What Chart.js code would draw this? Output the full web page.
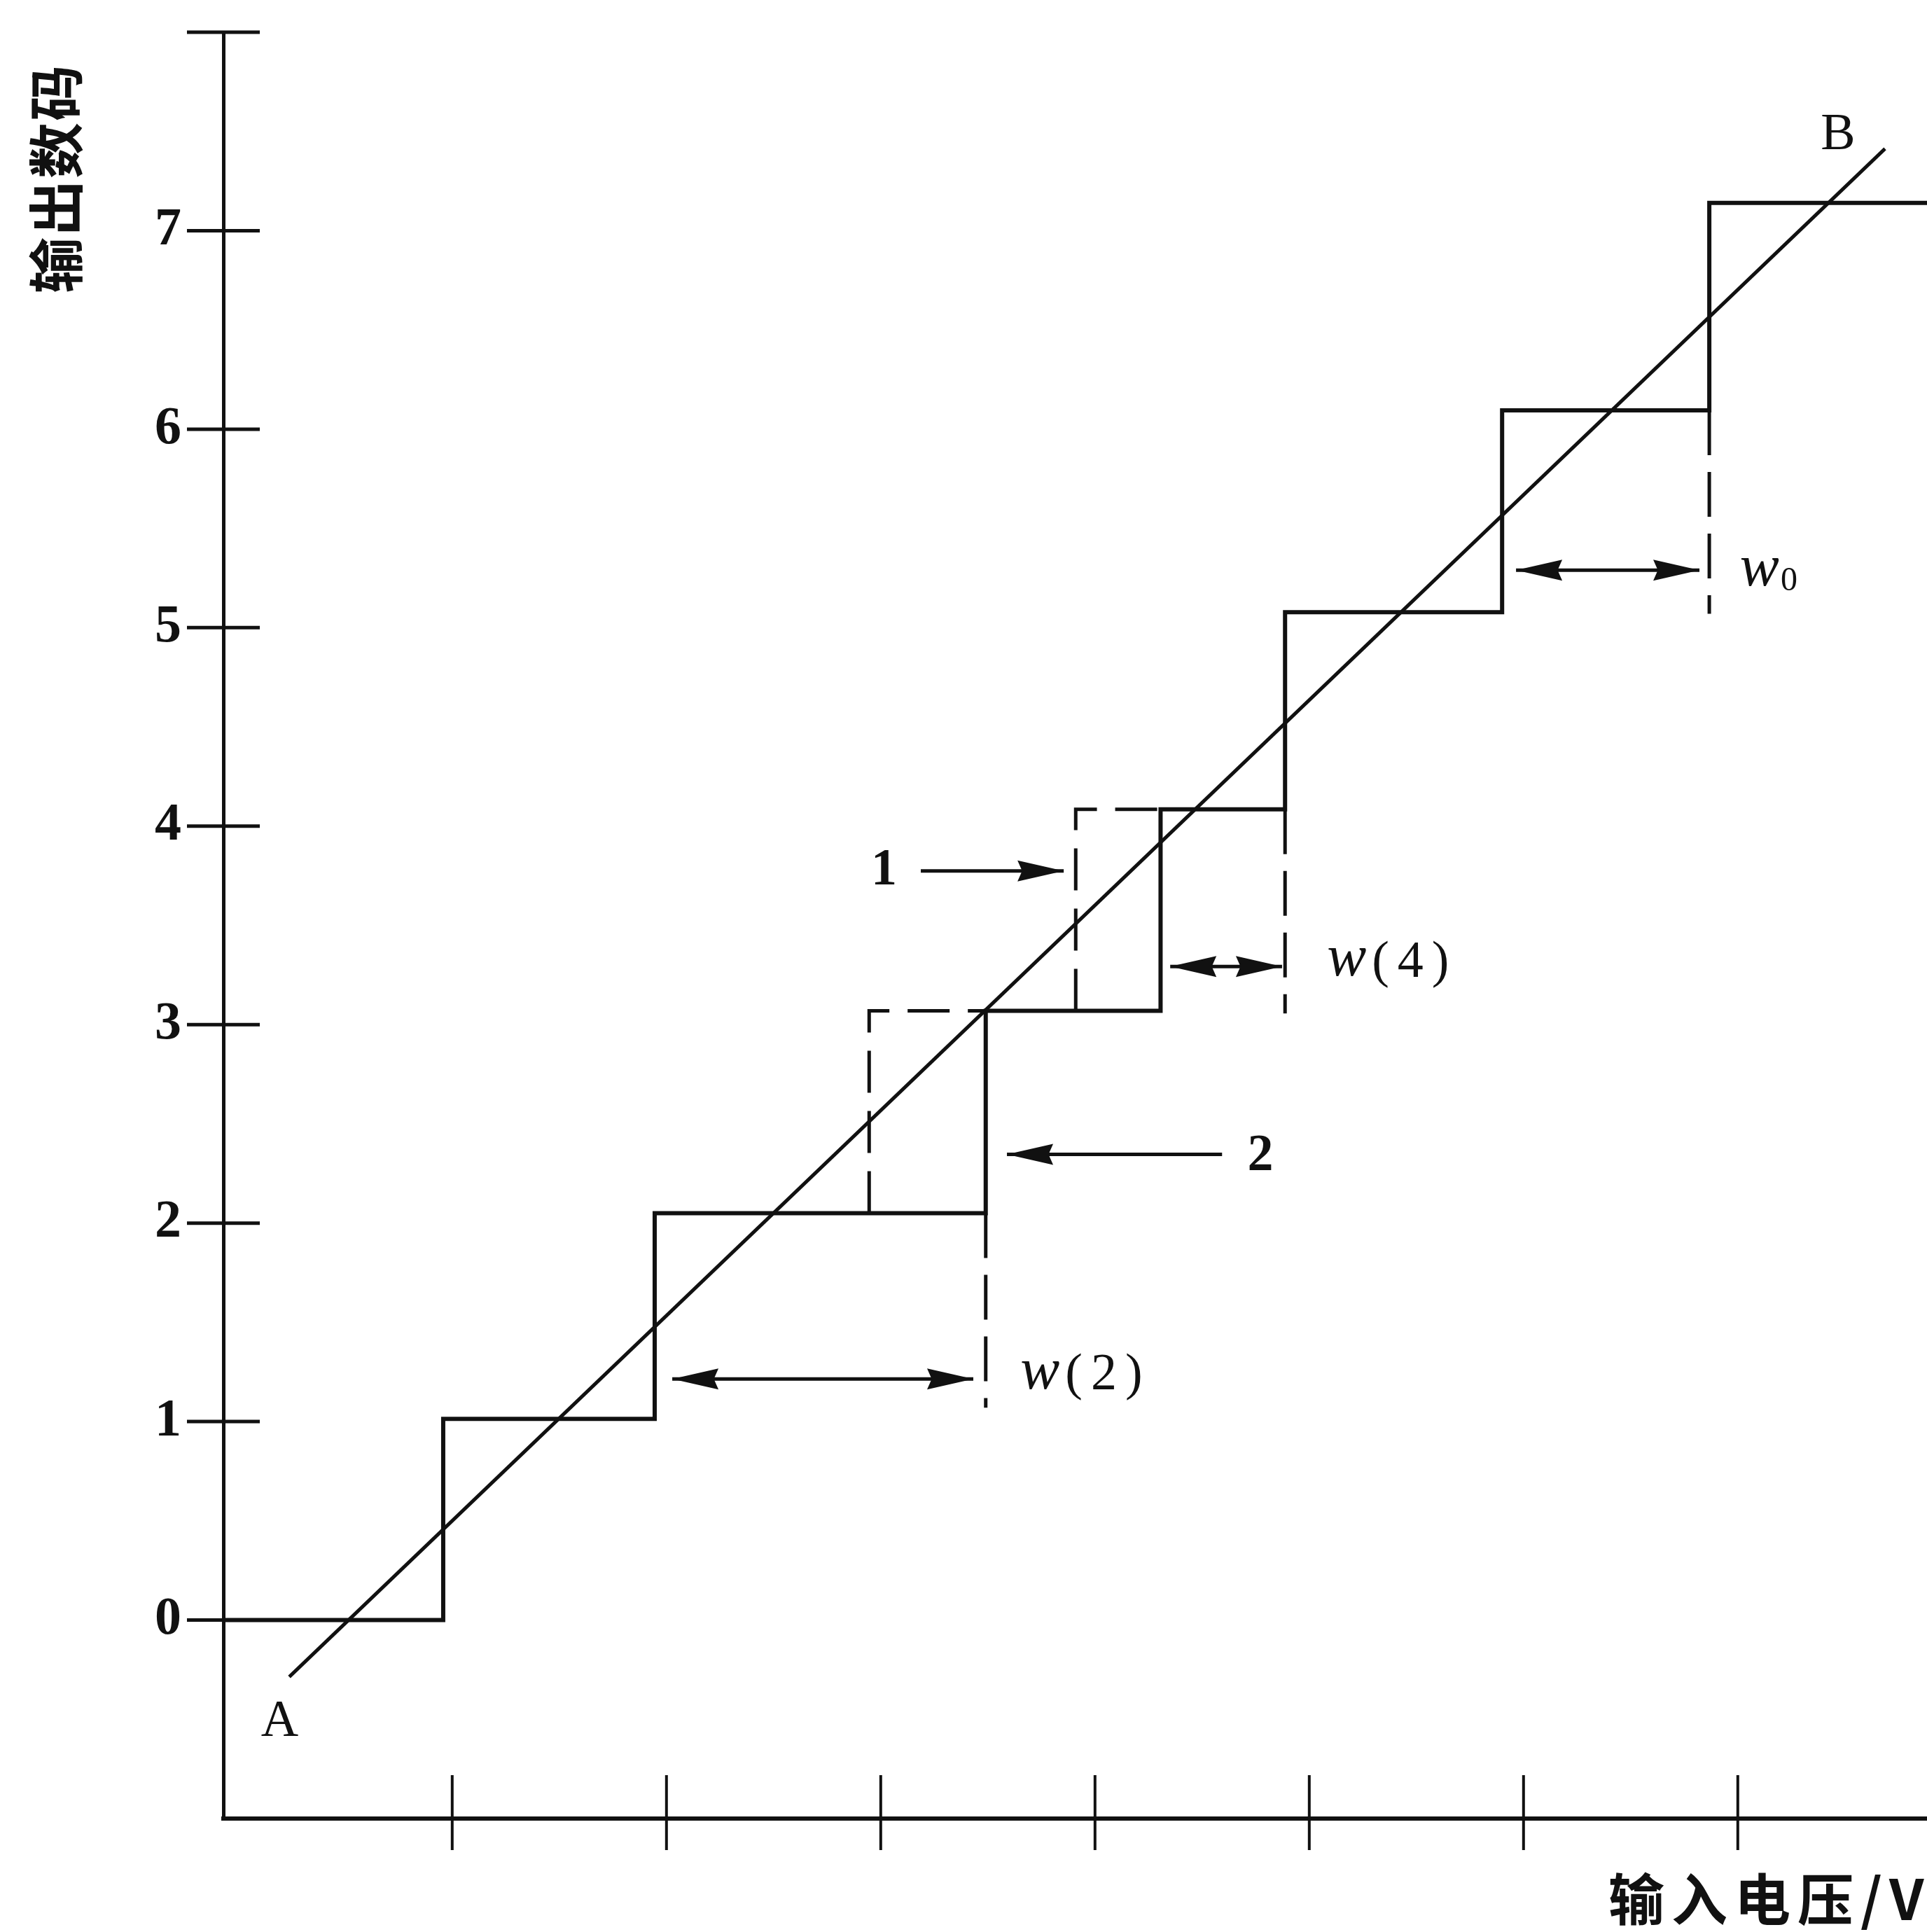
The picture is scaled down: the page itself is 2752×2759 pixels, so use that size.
<!DOCTYPE html>
<html>
<head>
<meta charset="utf-8">
<script src="https://cdn.jsdelivr.net/npm/chart.js@4.4.1/dist/chart.umd.min.js"></script>
<style>
  html, body { margin: 0; padding: 0; background: #fff; }
  #wrap { width: 2752px; height: 2759px; }
</style>
</head>
<body>
<div id="wrap"><canvas id="adc" width="2752" height="2759" style="width:2752px;height:2759px"></canvas></div>
<script>
// axis ranges (input voltage / output code)
const xRange = [-0.068, 7.883];
const yRange = [-1, 8];
const yTicks = [0, 1, 2, 3, 4, 5, 6, 7, 8];
const yTickLabels = ['0', '1', '2', '3', '4', '5', '6', '7', ''];
const xTicks = [1, 2, 3, 4, 5, 6, 7];

const stepEdges = [-0.068, 0.958, 1.945, 3.49, 4.306, 4.887, 5.90, 6.867, 7.883];
const stepLevels = [0, 1.014, 2.05, 3.07, 4.085, 5.078, 6.095, 7.14];

// ideal (dashed) transitions for codes 3 and 4
const idealCodes = [3, 4];
const idealEdges = [2.946, 3.91];

// dashed guides marking the code widths
const widthMarkX = [3.49, 4.887, 6.867];
const widthMarkTop = [2.05, 4.085, 6.095];
const widthMarkBottom = [1.07, 3.056, 5.07];

// straight line A-B
const lineA = [0.2395, -0.286];
const lineB = [7.687, 7.413];

// arrows: w(2), w(4), w0, pointer 1, pointer 2
const arrowY = [1.215, 3.293, 5.29, 3.774, 2.346];
const arrowFrom = [2.027, 4.351, 5.965, 3.187, 4.593];
const arrowTo = [3.432, 4.873, 6.821, 3.854, 3.589];
const arrowDouble = [true, true, true, false, false];

// annotation texts
const noteText = ['A', 'B', '1', '2', 'w(2)', 'w(4)', 'w0'];
const noteX = [0.195, 7.468, 3.015, 4.772, 3.652, 5.083, 7.01];
const noteY = [-0.516, 7.48, 3.774, 2.336, 1.23, 3.31, 5.275];

const black = '#111';
const serif = '"Liberation Serif", "DejaVu Serif", serif';
const cjk = '"Noto Sans CJK SC", sans-serif';

// build datasets
const stairPoints = [];
stepLevels.forEach((lv, i) => {
  stairPoints.push({ x: stepEdges[i], y: lv });
  stairPoints.push({ x: stepEdges[i + 1], y: lv });
});

const datasets = [];
datasets.push({ data: stairPoints, borderWidth: 6 });
datasets.push({ data: [{ x: lineA[0], y: lineA[1] }, { x: lineB[0], y: lineB[1] }], borderWidth: 5 });

idealCodes.forEach((c, i) => {
  datasets.push({
    data: [
      { x: idealEdges[i], y: stepLevels[c - 1] },
      { x: idealEdges[i], y: stepLevels[c] },
      { x: stepEdges[c], y: stepLevels[c] }
    ],
    borderWidth: 5,
    borderDash: [60, 26]
  });
});

widthMarkX.forEach((x, i) => {
  datasets.push({
    data: [{ x: x, y: widthMarkTop[i] }, { x: x, y: widthMarkBottom[i] }],
    borderWidth: 5,
    borderDash: [64, 24]
  });
});

arrowY.forEach((y, i) => {
  datasets.push({
    data: [{ x: arrowFrom[i], y: y }, { x: arrowTo[i], y: y }],
    borderWidth: 5,
    arrow: arrowDouble[i] ? 'both' : 'end'
  });
});

datasets.forEach(d => {
  d.showLine = true;
  d.pointRadius = 0;
  d.borderColor = black;
  d.fill = false;
  d.tension = 0;
});

function drawHead(ctx, tip, tail) {
  const ang = Math.atan2(tip.y - tail.y, tip.x - tail.x);
  const len = 66, half = 15;
  ctx.save();
  ctx.translate(tip.x, tip.y);
  ctx.rotate(ang);
  ctx.beginPath();
  ctx.moveTo(0, 0);
  ctx.lineTo(-len, -half);
  ctx.lineTo(-len * 0.9, 0);
  ctx.lineTo(-len, half);
  ctx.closePath();
  ctx.fill();
  ctx.restore();
}

const extras = {
  id: 'extras',
  afterDatasetsDraw(chart) {
    const { ctx, scales: { x, y } } = chart;
    ctx.save();
    ctx.strokeStyle = black;
    ctx.fillStyle = black;

    // tick marks crossing the axes
    ctx.lineWidth = 5;
    const ax = x.getPixelForValue(xRange[0]);
    const ay = y.getPixelForValue(yRange[0]);
    yTicks.forEach(v => {
      const py = y.getPixelForValue(v);
      ctx.beginPath(); ctx.moveTo(ax - 52, py); ctx.lineTo(ax + 52, py); ctx.stroke();
    });
    ctx.lineWidth = 4;
    xTicks.forEach(v => {
      const px = x.getPixelForValue(v);
      ctx.beginPath(); ctx.moveTo(px, ay - 62); ctx.lineTo(px, ay + 45); ctx.stroke();
    });

    // arrow heads
    chart.data.datasets.forEach((d, i) => {
      if (!d.arrow) return;
      const pts = chart.getDatasetMeta(i).data;
      drawHead(ctx, pts[1], pts[0]);
      if (d.arrow === 'both') drawHead(ctx, pts[0], pts[1]);
    });

    // annotations
    ctx.textBaseline = 'middle';
    noteText.forEach((t, i) => {
      let px = x.getPixelForValue(noteX[i]);
      const py = y.getPixelForValue(noteY[i]);
      if (t[0] !== 'w') {
        const isNum = /\d/.test(t);
        ctx.font = (isNum ? 'bold 74px ' : '74px ') + serif;
        ctx.textAlign = 'center';
        ctx.fillText(t, px, py);
        return;
      }
      ctx.textAlign = 'left';
      ctx.font = 'italic 84px ' + serif;
      ctx.fillText('w', px, py - 4);
      px += ctx.measureText('w').width + 8;
      const rest = t.slice(1);
      if (rest[0] === '(') {
        ctx.font = '74px ' + serif;
        ctx.letterSpacing = '12px';
        ctx.fillText(rest, px, py);
        ctx.letterSpacing = '0px';
      } else {
        ctx.font = '48px ' + serif;
        ctx.fillText(rest, px - 6, py + 12);
      }
    });

    // axis titles
    ctx.font = '600 80px ' + cjk;
    ctx.textAlign = 'center';
    ctx.save();
    ctx.translate(80, 255);
    ctx.rotate(-Math.PI / 2);
    ctx.letterSpacing = '2px';
    ctx.fillText('输出数码', 0, 0);
    ctx.restore();
    ctx.textAlign = 'left';
    ctx.letterSpacing = '10px';
    ctx.fillText('输入电压/V', 2297, 2712);
    ctx.restore();
  }
};

new Chart(document.getElementById('adc'), {
  type: 'scatter',
  data: { datasets },
  options: {
    responsive: false,
    animation: false,
    devicePixelRatio: 1,
    layout: { padding: { top: 46, bottom: 162, left: 0, right: 0 } },
    plugins: { legend: { display: false }, tooltip: { enabled: false } },
    scales: {
      x: {
        type: 'linear',
        min: xRange[0],
        max: xRange[1],
        grid: { display: false, drawTicks: false },
        border: { display: true, color: black, width: 6 },
        ticks: { display: false },
        afterFit(s) { s.height = 0; s.paddingLeft = 0; s.paddingRight = 0; }
      },
      y: {
        type: 'linear',
        min: yRange[0],
        max: yRange[1],
        grid: { display: false, drawTicks: false },
        border: { display: true, color: black, width: 5 },
        ticks: {
          stepSize: 1,
          autoSkip: false,
          padding: 60,
          color: black,
          font: { family: serif, size: 76, weight: 'bold' },
          callback: v => {
            const i = yTicks.indexOf(v);
            return i >= 0 ? yTickLabels[i] : '';
          }
        },
        afterFit(s) { s.width = 319; s.paddingTop = 0; s.paddingBottom = 0; }
      }
    }
  },
  plugins: [extras]
});
</script>
</body>
</html>
